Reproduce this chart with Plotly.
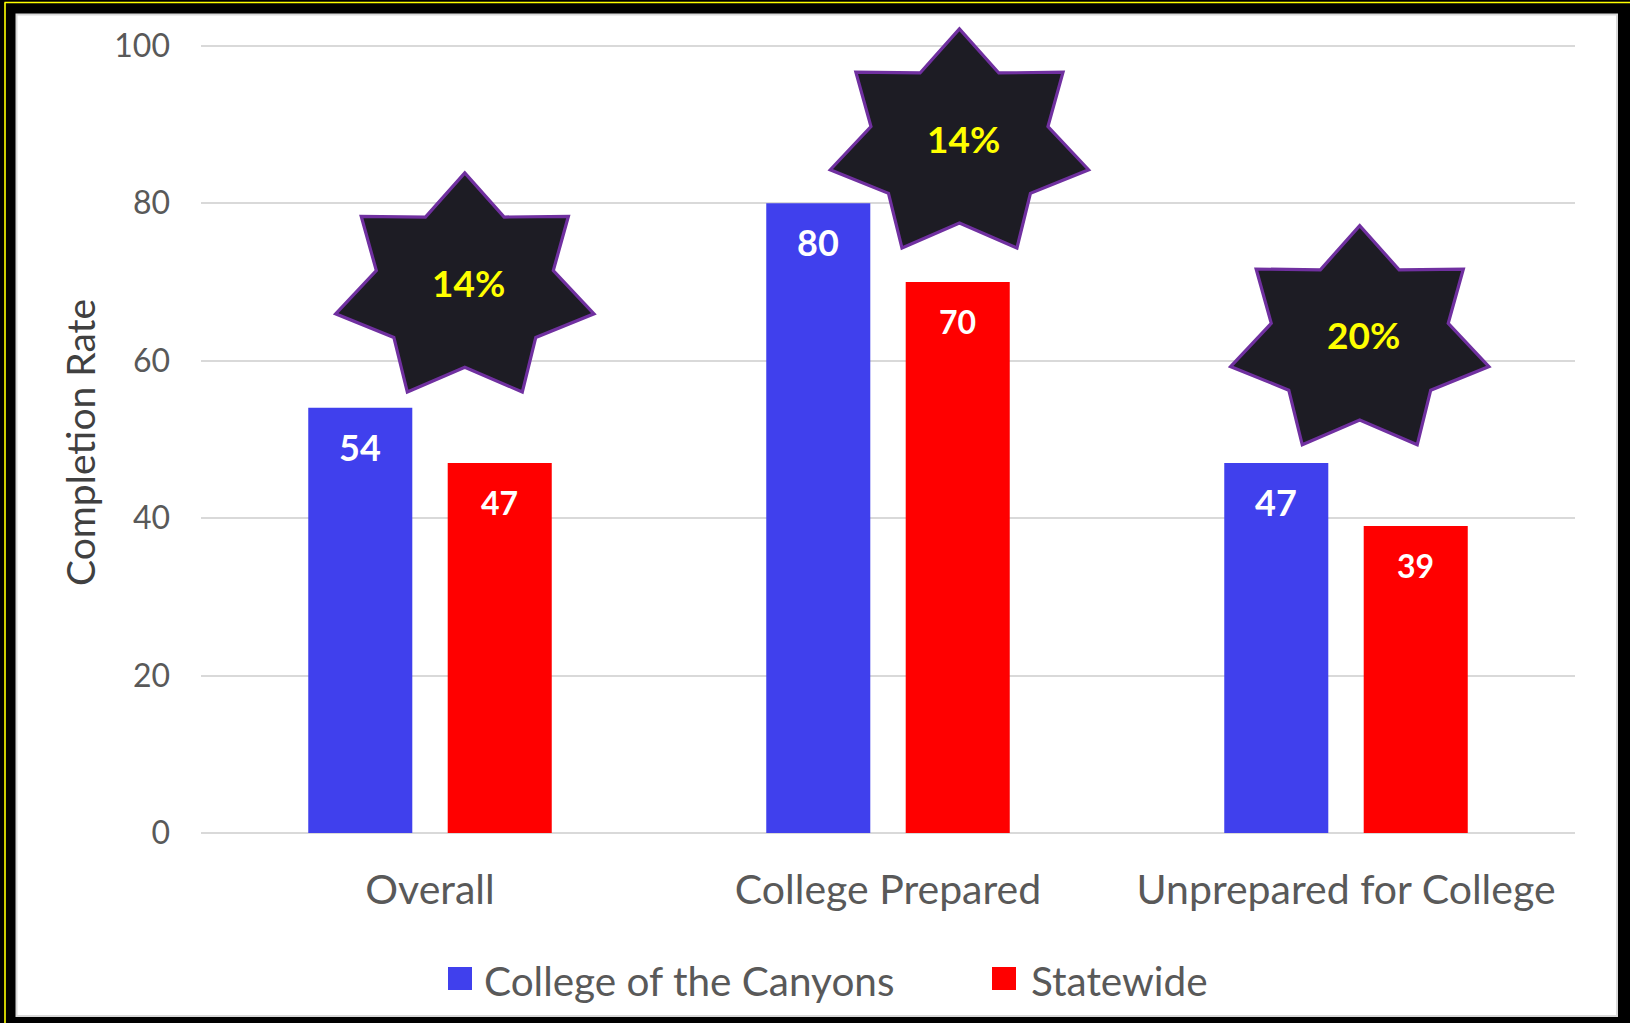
import math
import plotly.graph_objects as go

# ---------------- data ----------------
categories = ["Overall", "College Prepared", "Unprepared for College"]
coc_values = [54, 80, 47]          # College of the Canyons
statewide_values = [47, 70, 39]    # Statewide
series_names = ["College of the Canyons", "Statewide"]
star_labels = ["14%", "14%", "20%"]
star_y = [69.2, 87.5, 62.5]        # star centre height (data units)
star_dx = [0.076, 0.156, 0.03]     # star centre offset from category centre (category units)
y_ticks = [0, 20, 40, 60, 80, 100]
y_title = "Completion Rate"

# ---------------- style ----------------
W, H = 1630, 1023
ML, MR, MT, MB = 201, 55, 20, 190
PW, PH = W - ML - MR, H - MT - MB
UNIT_PX = (833.0 - 45.7) / 100.0       # pixels per data unit
Y_MAX = PH / UNIT_PX                   # range top so that 100 sits at the reference height
BLUE = "#4040ED"
RED = "#FF0000"
GRID = "#D9D9D9"
TXT = "#595959"
FONT = "Lato"
BARGAP = 0.391
BARGROUPGAP = 0.254
half_slot = (1 - BARGAP) / 4   # centre offset of each bar in category units


def px_x(p):
    return (p - ML) / PW


def px_y(p):
    return (H - MB - p) / PH


def star_path(rx, ry, ratio, n=7):
    pts = []
    for k in range(2 * n):
        ang = math.pi / 2 + k * math.pi / n
        r = 1.0 if k % 2 == 0 else ratio
        pts.append((rx * r * math.cos(ang), ry * r * math.sin(ang)))
    return "M" + " L".join(f"{x:.2f},{y:.2f}" for x, y in pts) + " Z"


xs = list(range(len(categories)))

fig = go.Figure()
fig.add_trace(go.Bar(x=xs, y=coc_values, name=series_names[0], marker_color=BLUE,
                     marker_line_width=0, showlegend=False))
fig.add_trace(go.Bar(x=xs, y=statewide_values, name=series_names[1], marker_color=RED,
                     marker_line_width=0, showlegend=False))

shapes = []
# frame
shapes.append(dict(type="rect", xref="paper", yref="paper", layer="below",
                   x0=px_x(16.5), x1=px_x(1617), y0=px_y(1016), y1=px_y(14.5),
                   fillcolor="white", line=dict(color=GRID, width=2)))
shapes.append(dict(type="line", xref="paper", yref="paper", layer="above",
                   x0=px_x(4.5), x1=px_x(1640), y0=px_y(2.5), y1=px_y(2.5),
                   line=dict(color="#FFFF00", width=1.6)))
shapes.append(dict(type="line", xref="paper", yref="paper", layer="above",
                   x0=px_x(5), x1=px_x(5), y0=px_y(2.5), y1=px_y(1040),
                   line=dict(color="#FFFF00", width=1.6)))

annotations = []
# y-axis title (as rotated annotation so it is centred on the 0-100 span)
annotations.append(dict(x=px_x(80), y=px_y(443), xref="paper", yref="paper",
                        text=y_title, textangle=-90, showarrow=False,
                        xanchor="center", yanchor="middle",
                        font=dict(family=FONT, size=39, color="#404040")))
# data labels
for i, (a, b) in enumerate(zip(coc_values, statewide_values)):
    annotations.append(dict(x=i - half_slot, y=a, xref="x", yref="y", text=f"<b>{a}</b>",
                            showarrow=False, yanchor="middle", yshift=-39,
                            font=dict(family=FONT, size=36, color="white")))
    annotations.append(dict(x=i + half_slot, y=b, xref="x", yref="y", text=f"<b>{b}</b>",
                            showarrow=False, yanchor="middle", yshift=-40,
                            font=dict(family=FONT, size=32, color="white")))

# stars
path = star_path(132.5, 115.3, 0.685)
for i, lab in enumerate(star_labels):
    shapes.append(dict(type="path", xref="x", yref="y", layer="above",
                       xsizemode="pixel", ysizemode="pixel",
                       xanchor=i + star_dx[i], yanchor=star_y[i], path=path,
                       fillcolor="#1D1C24", line=dict(color="#7030A0", width=3.2)))
    annotations.append(dict(x=i + star_dx[i], y=star_y[i], xref="x", yref="y",
                            text=f"<b>{lab}</b>", showarrow=False, xshift=4, yshift=6,
                            font=dict(family=FONT, size=37, color="#FFFF00")))

# legend (manual, to get large swatches)
legend_items = [(series_names[0], BLUE, 448, 482), (series_names[1], RED, 992, 1029)]
for name, col, sx, tx in legend_items:
    shapes.append(dict(type="rect", xref="paper", yref="paper", layer="above",
                       x0=px_x(sx), x1=px_x(sx + 24), y0=px_y(990), y1=px_y(967),
                       fillcolor=col, line=dict(width=0)))
    annotations.append(dict(x=px_x(tx), y=px_y(980), xref="paper", yref="paper",
                            text=name, showarrow=False, xanchor="left", yanchor="middle",
                            font=dict(family=FONT, size=40.5, color=TXT)))

fig.update_layout(
    width=W, height=H,
    margin=dict(l=ML, r=MR, t=MT, b=MB, pad=0),
    paper_bgcolor="black", plot_bgcolor="white",
    barmode="group", bargap=BARGAP, bargroupgap=BARGROUPGAP,
    font=dict(family=FONT, color=TXT),
    shapes=shapes, annotations=annotations,
    showlegend=False,
    xaxis=dict(tickvals=xs, ticktext=categories, range=[-0.5, 2.5],
               showgrid=False, zeroline=False, showline=False, ticks="",
               tickfont=dict(family=FONT, size=41, color=TXT),
               ticklabelstandoff=29, fixedrange=True),
    yaxis=dict(range=[0, Y_MAX], tickvals=y_ticks, showgrid=True, gridcolor=GRID,
               gridwidth=2, zeroline=True, zerolinecolor=GRID, zerolinewidth=2,
               showline=False, ticks="",
               tickfont=dict(family=FONT, size=32, color=TXT),
               ticklabelstandoff=30, fixedrange=True),
)

fig.write_html("out.html", config={"displayModeBar": False},
               post_script="document.body.style.margin='0';document.body.style.overflow='hidden';")
